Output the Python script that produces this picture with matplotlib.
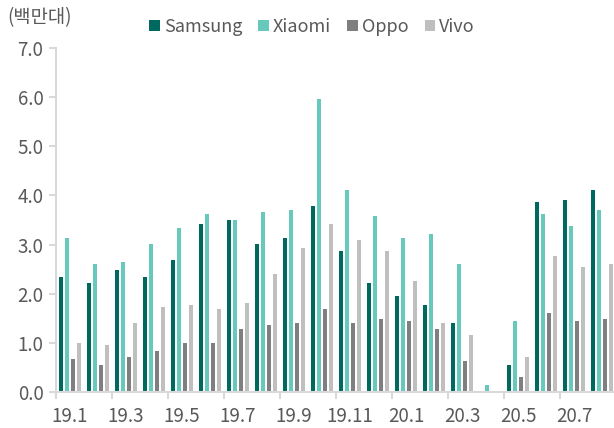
import numpy as np
import matplotlib
matplotlib.use("Agg")
import matplotlib.pyplot as plt

plt.rcParams['font.family'] = ['Noto Sans CJK KR', 'DejaVu Sans']

months = ['19.1', '19.2', '19.3', '19.4', '19.5', '19.6', '19.7', '19.8', '19.9', '19.10',
          '19.11', '19.12', '20.1', '20.2', '20.3', '20.4', '20.5', '20.6', '20.7', '20.8']
samsung = [2.33, 2.21, 2.49, 2.33, 2.69, 3.42, 3.50, 3.02, 3.14, 3.79,
           2.86, 2.21, 1.96, 1.77, 1.40, 0.0, 0.54, 3.87, 3.91, 4.11]
xiaomi = [3.14, 2.61, 2.65, 3.02, 3.34, 3.62, 3.50, 3.66, 3.70, 5.96,
          4.11, 3.58, 3.14, 3.22, 2.61, 0.14, 1.44, 3.62, 3.38, 3.70]
oppo = [0.67, 0.54, 0.71, 0.83, 0.99, 0.99, 1.28, 1.36, 1.40, 1.68,
        1.40, 1.48, 1.44, 1.28, 0.63, 0.0, 0.30, 1.60, 1.44, 1.48]
vivo = [0.99, 0.95, 1.40, 1.73, 1.77, 1.69, 1.81, 2.41, 2.94, 3.42,
        3.10, 2.86, 2.25, 1.40, 1.16, 0.0, 0.71, 2.77, 2.54, 2.61]

series = [('Samsung', samsung, '#00695F'),
          ('Xiaomi', xiaomi, '#66C9BC'),
          ('Oppo', oppo, '#7F7F7F'),
          ('Vivo', vivo, '#BFBFBF')]

text_color = '#595959'
axis_color = '#D9D9D9'

fig = plt.figure(figsize=(6.14, 4.28), dpi=100)
ax = fig.add_axes([56 / 614, 1 - 392 / 428, 558 / 614, 344 / 428])

x = np.arange(len(months))
step = 0.215
width = 0.145
for i, (name, vals, color) in enumerate(series):
    ax.bar(x + (i - 1.5) * step, vals, width, color=color, label=name)

ax.set_xlim(-0.5, 19.43)
ax.set_ylim(0, 7)
ax.set_yticks(np.arange(0, 7.5, 1.0))
ax.set_yticklabels([f'{v:.1f}' for v in np.arange(0, 7.5, 1.0)])

# tick marks at group boundaries, labels under every other group
ax.set_xticks(np.arange(-0.5, 19.5, 2), minor=False)
ax.set_xticklabels([])
ax.set_xticks(x[::2], minor=True)
ax.set_xticklabels(months[::2], minor=True)
ax.tick_params(axis='x', which='minor', length=0, pad=10, labelsize=13.5, labelcolor=text_color)
ax.tick_params(axis='x', which='major', length=5, width=1.5, color=axis_color)
ax.tick_params(axis='y', length=5, width=1.5, color=axis_color, labelsize=13.5,
               labelcolor=text_color, pad=4)

for side in ['top', 'right']:
    ax.spines[side].set_visible(False)
for side in ['left', 'bottom']:
    ax.spines[side].set_color(axis_color)
    ax.spines[side].set_linewidth(1.5)

fig.text(7 / 614, 1 - 18 / 428, '(백만대)', fontsize=13.5, color=text_color, va='center', ha='left')

leg = fig.legend(loc='center', bbox_to_anchor=(312 / 614, 1 - 27 / 428), ncol=4, frameon=False,
                 fontsize=13, handlelength=0.6, handleheight=0.6, handletextpad=0.2,
                 columnspacing=0.9, labelcolor=text_color)

fig.savefig('out.png', dpi=100)
